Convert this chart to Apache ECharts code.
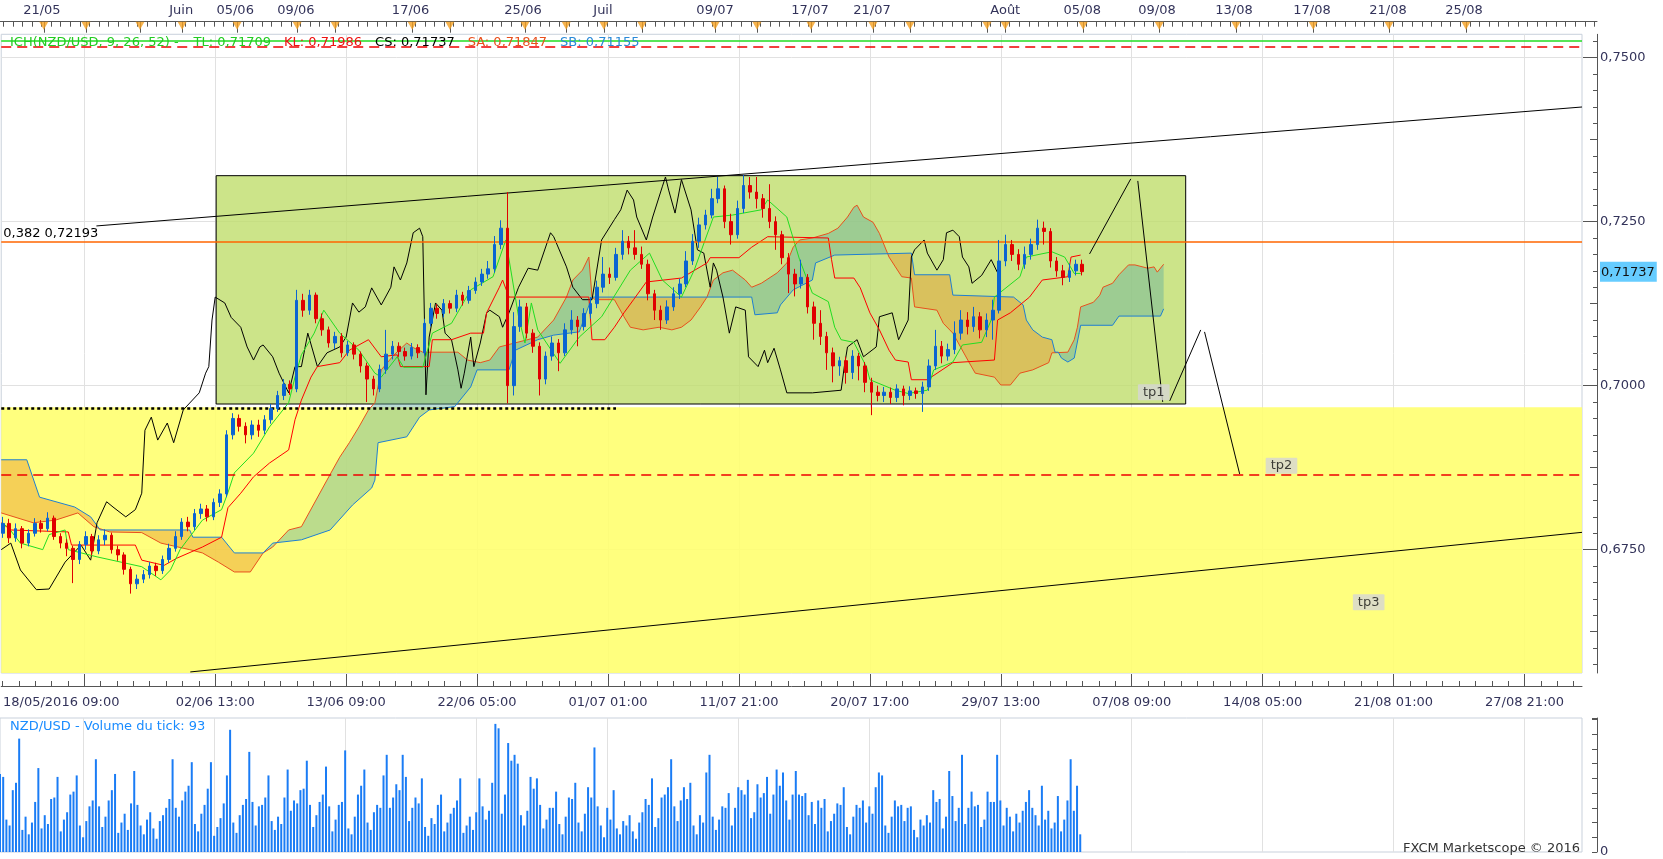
<!DOCTYPE html>
<html><head><meta charset="utf-8">
<script src="https://cdn.jsdelivr.net/npm/echarts@6/dist/echarts.min.js"></script>
<style>html,body{margin:0;padding:0;background:#fff}#c{width:1663px;height:859px}</style>
</head><body><div id="c"></div>
<script>
// ---------- axes / labels ----------
const SLOTS = 495;            // 4-hour bar slots across the price panel
const TOPMAX = 499.8;
const bottomTickSlots = [26,67,108,149,190,231,272,313,354,395,436,477];
const bottomTickLabels = ['18/05/2016 09:00','02/06 13:00','13/06 09:00','22/06 05:00','01/07 01:00','11/07 21:00','20/07 17:00','29/07 13:00','07/08 09:00','14/08 05:00','21/08 01:00','27/08 21:00'];
const topTickSlots = [13.1,56.7,73.6,92.6,128.5,163.7,188.7,223.8,253.5,272.9,314.6,338.7,362.1,386.2,410.6,434.4,458.2];
const topTickLabels = ['21/05','Juin','05/06','09/06','17/06','25/06','Juil','09/07','17/07','21/07','Août','05/08','09/08','13/08','17/08','21/08','25/08'];
const eventSlots = [13.7,26.9,43.8,57,74.2,93,104.9,129,140.8,164.3,177.2,189,200.9,223.8,236.9,253.8,273.2,284.8,308.9,314.6,339,362.8,386.8,411,434.7,458.8];
const priceTicks = [0.675,0.7,0.725,0.75];
const PMIN = 0.6562, PMAX = 0.75355;
const lastPrice = 0.71737;

// ---------- price data: [open, close, low, high], one candle every 2 slots ----------
const candles = [
[0.6775,0.6790,0.6768,0.6800],[0.6790,0.6768,0.6760,0.6797],[0.6768,0.6782,0.6762,0.6790],[0.6782,0.6760,0.6752,0.6786],
[0.6760,0.6775,0.6755,0.6781],[0.6775,0.6790,0.6770,0.6798],[0.6790,0.6782,0.6776,0.6795],[0.6782,0.6798,0.6778,0.6807],
[0.6798,0.6770,0.6765,0.6802],[0.6770,0.6760,0.6752,0.6775],[0.6760,0.6752,0.6740,0.6766],[0.6752,0.6735,0.6699,0.6756],
[0.6735,0.6758,0.6728,0.6763],[0.6758,0.6770,0.6750,0.6778],[0.6770,0.6748,0.6741,0.6774],[0.6748,0.6765,0.6743,0.6772],
[0.6765,0.6772,0.6757,0.6781],[0.6772,0.6750,0.6744,0.6776],[0.6750,0.6742,0.6733,0.6756],[0.6742,0.6720,0.6712,0.6746],
[0.6720,0.6698,0.6683,0.6724],[0.6698,0.6705,0.6690,0.6712],[0.6705,0.6712,0.6699,0.6719],[0.6712,0.6725,0.6706,0.6731],
[0.6725,0.6718,0.6710,0.6730],[0.6718,0.6735,0.6713,0.6741],[0.6735,0.6752,0.6730,0.6759],[0.6752,0.6770,0.6747,0.6778],
[0.6770,0.6792,0.6765,0.6798],[0.6792,0.6785,0.6778,0.6800],[0.6785,0.6805,0.6780,0.6812],[0.6805,0.6812,0.6797,0.6820],
[0.6812,0.6800,0.6793,0.6818],[0.6800,0.6822,0.6795,0.6828],[0.6822,0.6835,0.6815,0.6842],[0.6835,0.6925,0.6830,0.6932],
[0.6925,0.6950,0.6918,0.6958],[0.6950,0.6938,0.6930,0.6956],[0.6938,0.6925,0.6912,0.6944],[0.6925,0.6940,0.6918,0.6947],
[0.6940,0.6932,0.6922,0.6948],[0.6932,0.6948,0.6926,0.6955],[0.6948,0.6965,0.6942,0.6972],[0.6965,0.6985,0.6960,0.6992],
[0.6985,0.7002,0.6978,0.7010],[0.7002,0.6995,0.6986,0.7008],[0.6995,0.7130,0.6990,0.7146],[0.7130,0.7115,0.7105,0.7140],
[0.7115,0.7138,0.7108,0.7146],[0.7138,0.7102,0.7095,0.7142],[0.7102,0.7085,0.7076,0.7110],[0.7085,0.7065,0.7058,0.7090],
[0.7065,0.7075,0.7056,0.7082],[0.7075,0.7050,0.7043,0.7080],[0.7050,0.7062,0.7045,0.7068],[0.7062,0.7048,0.7040,0.7066],
[0.7048,0.7030,0.7020,0.7052],[0.7030,0.7010,0.6975,0.7035],[0.7010,0.6995,0.6985,0.7015],[0.6995,0.7025,0.6990,0.7032],
[0.7025,0.7048,0.7018,0.7085],[0.7048,0.7060,0.7040,0.7068],[0.7060,0.7052,0.7044,0.7066],[0.7052,0.7045,0.7038,0.7058],
[0.7045,0.7058,0.7040,0.7065],[0.7058,0.7050,0.7042,0.7063],[0.7050,0.7095,0.7046,0.7102],[0.7095,0.7118,0.7090,0.7126],
[0.7118,0.7110,0.7102,0.7124],[0.7110,0.7125,0.7104,0.7132],[0.7125,0.7118,0.7110,0.7130],[0.7118,0.7138,0.7112,0.7146],
[0.7138,0.7130,0.7122,0.7143],[0.7130,0.7145,0.7125,0.7152],[0.7145,0.7158,0.7140,0.7165],[0.7158,0.7170,0.7152,0.7178],
[0.7170,0.7178,0.7163,0.7190],[0.7178,0.7215,0.7172,0.7228],[0.7215,0.7240,0.7208,0.7252],[0.7240,0.7000,0.6973,0.7295],
[0.7000,0.7090,0.6985,0.7112],[0.7090,0.7120,0.7082,0.7131],[0.7120,0.7080,0.7072,0.7126],[0.7080,0.7060,0.7050,0.7086],
[0.7060,0.7010,0.6985,0.7066],[0.7010,0.7045,0.7002,0.7052],[0.7045,0.7065,0.7038,0.7075],[0.7065,0.7050,0.7022,0.7071],
[0.7050,0.7085,0.7045,0.7095],[0.7085,0.7100,0.7078,0.7115],[0.7100,0.7090,0.7060,0.7106],[0.7090,0.7110,0.7084,0.7118],
[0.7110,0.7125,0.7102,0.7135],[0.7125,0.7150,0.7118,0.7160],[0.7150,0.7170,0.7142,0.7196],[0.7170,0.7165,0.7155,0.7180],
[0.7165,0.7200,0.7160,0.7210],[0.7200,0.7220,0.7192,0.7237],[0.7220,0.7210,0.7200,0.7228],[0.7210,0.7200,0.7192,0.7237],
[0.7200,0.7185,0.7178,0.7212],[0.7185,0.7140,0.7130,0.7192],[0.7140,0.7115,0.7100,0.7146],[0.7115,0.7100,0.7085,0.7122],
[0.7100,0.7120,0.7094,0.7130],[0.7120,0.7140,0.7114,0.7150],[0.7140,0.7155,0.7132,0.7163],[0.7155,0.7190,0.7150,0.7205],
[0.7190,0.7220,0.7184,0.7231],[0.7220,0.7245,0.7210,0.7256],[0.7245,0.7260,0.7238,0.7268],[0.7260,0.7285,0.7255,0.7300],
[0.7285,0.7300,0.7278,0.7318],[0.7300,0.7250,0.7240,0.7305],[0.7250,0.7230,0.7215,0.7262],[0.7230,0.7270,0.7224,0.7282],
[0.7270,0.7305,0.7263,0.7321],[0.7305,0.7295,0.7285,0.7318],[0.7295,0.7285,0.7270,0.7318],[0.7285,0.7270,0.7256,0.7292],
[0.7270,0.7250,0.7240,0.7307],[0.7250,0.7230,0.7207,0.7258],[0.7230,0.7195,0.7185,0.7236],[0.7195,0.7170,0.7141,0.7202],
[0.7170,0.7155,0.7136,0.7178],[0.7155,0.7165,0.7148,0.7192],[0.7165,0.7120,0.7110,0.7170],[0.7120,0.7095,0.7070,0.7128],
[0.7095,0.7075,0.7062,0.7115],[0.7075,0.7050,0.7024,0.7082],[0.7050,0.7030,0.7005,0.7058],[0.7030,0.7038,0.7015,0.7044],
[0.7038,0.7020,0.7003,0.7044],[0.7020,0.7045,0.7010,0.7054],[0.7045,0.7030,0.7008,0.7050],[0.7030,0.7005,0.6990,0.7036],
[0.7005,0.6990,0.6955,0.7012],[0.6990,0.6985,0.6976,0.7000],[0.6985,0.6990,0.6975,0.6998],[0.6990,0.6982,0.6972,0.6997],
[0.6982,0.6995,0.6975,0.7002],[0.6995,0.6985,0.6970,0.7000],[0.6985,0.6992,0.6978,0.6999],[0.6992,0.6988,0.6980,0.6997],
[0.6988,0.6998,0.6960,0.7006],[0.6998,0.7030,0.6992,0.7040],[0.7030,0.7060,0.7024,0.7085],[0.7060,0.7045,0.7034,0.7068],
[0.7045,0.7055,0.7038,0.7064],[0.7055,0.7080,0.7048,0.7098],[0.7080,0.7100,0.7070,0.7115],[0.7100,0.7090,0.7078,0.7112],
[0.7090,0.7105,0.7082,0.7120],[0.7105,0.7085,0.7072,0.7112],[0.7085,0.7100,0.7074,0.7110],[0.7100,0.7115,0.7070,0.7131],
[0.7115,0.7190,0.7110,0.7222],[0.7190,0.7215,0.7182,0.7230],[0.7215,0.7200,0.7190,0.7222],[0.7200,0.7185,0.7176,0.7208],
[0.7185,0.7200,0.7178,0.7212],[0.7200,0.7215,0.7192,0.7224],[0.7215,0.7240,0.7207,0.7253],[0.7240,0.7235,0.7215,0.7250],
[0.7235,0.7190,0.7180,0.7240],[0.7190,0.7175,0.7166,0.7196],[0.7175,0.7165,0.7153,0.7184],[0.7165,0.7175,0.7158,0.7186],
[0.7175,0.7185,0.7168,0.7192],[0.7185,0.71737,0.7168,0.7192]
];

// ---------- Ichimoku lines: [slot, price] ----------
const tenkan = [[0,0.6790],[2,0.6785],[6,0.6760],[13,0.6750],[15,0.6773],[20,0.6780],[21,0.6750],[30,0.6739],[44,0.6724],[50,0.6704],[53,0.6719],[56,0.6750],[63,0.6795],[69,0.6811],[71,0.6837],[73,0.6867],[79,0.6897],[84,0.6937],[90,0.6974],[92,0.7013],[94,0.7047],[98,0.7080],[101,0.7115],[106,0.7080],[112,0.7054],[117,0.7019],[119,0.7013],[124,0.7044],[126,0.7028],[132,0.7028],[135,0.7080],[141,0.7095],[147,0.7146],[154,0.7166],[158,0.7222],[162,0.7105],[164,0.7065],[166,0.7126],[168,0.7085],[175,0.7034],[181,0.7074],[188,0.7105],[197,0.7176],[203,0.7202],[207,0.7161],[213,0.7135],[217,0.7176],[223,0.7257],[229,0.7260],[238,0.7268],[240,0.7283],[246,0.7257],[250,0.7192],[254,0.7141],[259,0.7128],[261,0.7089],[263,0.7070],[267,0.7066],[271,0.7028],[272,0.7009],[280,0.6993],[284,0.6988],[290,0.6993],[292,0.7024],[298,0.7036],[301,0.7062],[307,0.7066],[310,0.7100],[311,0.7135],[319,0.7166],[321,0.7196],[329,0.7204],[333,0.7196],[336,0.7171],[338,0.7171]];
const kijun = [[0,0.6791],[3,0.6780],[21,0.6777],[22,0.6757],[42,0.6757],[44,0.6734],[51,0.6726],[55,0.6737],[63,0.6754],[69,0.6769],[71,0.6814],[75,0.6836],[79,0.6861],[84,0.6882],[90,0.6902],[92,0.6948],[94,0.6978],[97,0.7013],[99,0.7029],[106,0.7035],[109,0.7054],[115,0.7070],[119,0.7044],[124,0.7047],[125,0.7029],[134,0.7029],[135,0.7070],[141,0.7070],[147,0.7080],[151,0.7080],[152,0.7111],[156,0.7150],[157,0.7161],[159,0.7135],[184,0.7135],[185,0.7070],[189,0.7070],[192,0.7089],[195,0.7111],[198,0.7131],[202,0.7158],[213,0.7164],[221,0.7187],[222,0.7195],[231,0.7195],[235,0.7211],[240,0.7227],[259,0.7225],[260,0.7192],[261,0.7164],[267,0.7164],[269,0.7149],[272,0.7111],[275,0.7085],[278,0.7054],[280,0.7039],[284,0.7036],[285,0.7009],[290,0.7009],[298,0.7035],[311,0.7039],[312,0.7100],[316,0.7111],[322,0.7135],[326,0.7161],[334,0.7166],[335,0.7196],[338,0.7199]];
const senkouA = [[0,0.6806],[10,0.6791],[17,0.6795],[24,0.6806],[29,0.6785],[34,0.6777],[44,0.6776],[50,0.6760],[59,0.6750],[63,0.6745],[68,0.6731],[73,0.6716],[78,0.6716],[82,0.6745],[85,0.6754],[90,0.6780],[94,0.6785],[102,0.6856],[106,0.6891],[109,0.6913],[112,0.6937],[115,0.6963],[117,0.6974],[119,0.7024],[123,0.7047],[127,0.7065],[129,0.7058],[132,0.7051],[143,0.7051],[146,0.7039],[150,0.7035],[153,0.7039],[156,0.7059],[168,0.7074],[173,0.7100],[177,0.7135],[179,0.7161],[182,0.7176],[184,0.7196],[185,0.7135],[186,0.7131],[192,0.7131],[195,0.7105],[197,0.7089],[201,0.7085],[206,0.7089],[210,0.7085],[213,0.7089],[216,0.7100],[219,0.7120],[221,0.7135],[223,0.7161],[226,0.7172],[229,0.7176],[233,0.7161],[235,0.7150],[238,0.7156],[243,0.7172],[246,0.7187],[248,0.7211],[250,0.7222],[254,0.7225],[259,0.7232],[262,0.7240],[265,0.7257],[267,0.7272],[268,0.7275],[270,0.7257],[273,0.7249],[275,0.7232],[278,0.7196],[280,0.7181],[282,0.7166],[285,0.7164],[286,0.7120],[293,0.7115],[295,0.7095],[298,0.7080],[303,0.7036],[305,0.7019],[311,0.7013],[313,0.7001],[316,0.7001],[319,0.7019],[323,0.7024],[328,0.7035],[329,0.7050],[334,0.7051],[336,0.7070],[337,0.7089],[338,0.7120],[342,0.7127],[344,0.7138],[345,0.7150],[348,0.7156],[350,0.7169],[353,0.7184],[355,0.7184],[359,0.7179],[361,0.7181],[362,0.7173],[364,0.7185]];
const senkouB = [[0,0.6887],[8,0.6887],[12,0.6830],[23,0.6815],[28,0.6800],[31,0.6780],[59,0.6780],[60,0.6769],[69,0.6769],[73,0.6745],[82,0.6745],[85,0.6760],[94,0.6765],[103,0.6780],[110,0.6818],[116,0.6844],[117,0.6856],[118,0.6913],[127,0.6922],[131,0.6952],[134,0.6963],[142,0.6968],[147,0.6998],[149,0.7024],[159,0.7024],[161,0.7054],[168,0.7070],[173,0.7077],[181,0.7082],[185,0.7135],[235,0.7135],[236,0.7108],[243,0.7111],[244,0.7123],[248,0.7146],[254,0.7161],[255,0.7187],[261,0.7199],[285,0.7202],[286,0.7169],[297,0.7169],[298,0.7138],[317,0.7135],[320,0.7123],[321,0.7100],[323,0.7085],[326,0.7074],[329,0.7070],[330,0.7051],[331,0.7051],[332,0.7042],[334,0.7036],[336,0.7042],[338,0.7092],[348,0.7092],[350,0.7106],[363,0.7106],[364,0.7117]];
const chikou = [[0,0.6750],[3,0.6760],[6,0.6719],[11,0.6689],[15,0.6690],[20,0.6731],[25,0.6757],[28,0.6734],[30,0.6791],[33,0.6823],[35,0.6815],[39,0.6800],[42,0.6811],[44,0.6836],[45,0.6932],[47,0.6952],[49,0.6917],[52,0.6943],[54,0.6913],[57,0.6963],[62,0.6989],[64,0.7019],[65,0.7029],[66,0.7100],[67,0.7135],[70,0.7126],[72,0.7104],[75,0.7089],[77,0.7059],[79,0.7039],[81,0.7059],[82,0.7062],[85,0.7044],[87,0.7019],[90,0.6989],[92,0.7029],[94,0.7029],[96,0.7080],[99,0.7029],[102,0.7050],[106,0.7059],[108,0.7074],[110,0.7126],[112,0.7112],[114,0.7120],[116,0.7149],[119,0.7123],[122,0.7150],[123,0.7181],[125,0.7161],[127,0.7187],[129,0.7233],[131,0.7240],[132,0.7227],[133,0.6986],[134,0.7074],[136,0.7126],[138,0.7115],[139,0.7080],[141,0.7070],[143,0.7024],[144,0.6996],[145,0.7019],[147,0.7074],[148,0.7029],[150,0.7065],[152,0.7111],[153,0.7115],[156,0.7105],[157,0.7089],[159,0.7111],[162,0.7150],[165,0.7179],[168,0.7176],[172,0.7233],[173,0.7227],[177,0.7181],[179,0.7150],[182,0.7131],[185,0.7131],[188,0.7222],[192,0.7253],[194,0.7268],[196,0.7298],[198,0.7283],[199,0.7257],[202,0.7222],[204,0.7257],[207,0.7303],[208,0.7318],[209,0.7298],[211,0.7263],[213,0.7314],[216,0.7268],[218,0.7207],[220,0.7202],[222,0.7150],[223,0.7187],[224,0.7176],[226,0.7135],[228,0.7080],[230,0.7120],[233,0.7115],[234,0.7044],[237,0.7029],[239,0.7054],[240,0.7035],[242,0.7057],[244,0.7024],[246,0.6989],[254,0.6989],[263,0.6993],[264,0.7029],[265,0.7059],[268,0.7070],[270,0.7044],[274,0.7059],[275,0.7105],[279,0.7111],[281,0.7070],[284,0.7100],[285,0.7196],[286,0.7207],[289,0.7222],[290,0.7202],[293,0.7176],[295,0.7192],[296,0.7233],[298,0.7237],[300,0.7227],[301,0.7196],[303,0.7181],[304,0.7156],[307,0.7168],[310,0.7192],[312,0.7172]];
// cloud segments: [fromSlot, toSlot, 1 = Senkou A above (green) / 0 = below (orange)]
const cloudSegments = [[0,82,0],[82,185,1],[185,221,0],[221,278,1],[278,330,0],[330,364,1]];

// ---------- tick volume per slot ----------
const volume = [53,51,22,18,42,47,77,15,24,12,20,34,57,16,25,19,36,37,51,14,22,27,39,41,52,18,10,21,31,35,63,31,17,24,35,42,53,13,20,26,15,33,55,32,18,12,22,27,16,9,21,25,30,36,63,30,24,35,41,45,61,19,14,26,32,43,61,11,17,23,33,52,83,20,13,25,32,36,68,34,18,31,32,37,52,21,15,24,19,37,56,28,35,33,42,43,62,32,17,25,34,39,58,31,14,22,32,34,69,16,12,24,39,45,56,20,15,27,32,30,52,66,30,37,46,42,66,51,21,30,37,33,50,17,11,23,19,32,39,14,20,26,30,35,50,13,18,24,15,27,50,31,22,28,47,87,84,26,39,74,62,66,60,25,18,28,51,43,50,32,16,22,30,30,41,19,12,24,37,36,47,20,14,26,44,37,71,31,18,10,30,22,42,16,12,21,18,25,14,9,20,27,36,32,50,17,23,37,39,44,63,31,21,35,44,36,47,18,12,25,20,54,66,24,15,22,31,30,40,18,30,44,42,39,49,23,27,46,37,40,51,26,39,56,45,54,35,22,39,55,39,38,40,25,34,19,35,30,36,14,21,26,33,32,44,17,12,24,32,30,35,20,31,26,44,54,52,18,13,24,35,31,32,21,30,31,15,10,22,18,25,20,42,34,36,16,24,55,38,21,30,66,19,30,41,31,32,17,22,41,34,34,66,35,18,30,24,14,26,20,28,34,42,30,25,18,45,22,28,16,20,38,14,22,35,63,28,45,12];

// ---------- drawn objects ----------
const fibLevel = 0.72193;
const targetLevel = 0.6864;
const upperDashLevel = 0.75168;
const greenLevel = 0.7525;
const supportLevel = 0.69655;
const yellowTop = 0.6967;
const box = {left:67.3, right:370.9, top:0.7320, bottom:0.6972};
const upperTrend = [[29.8,0.72434],[495,0.74247]];
const lowerTrend = [[59.2,0.65636],[495,0.67764]];
const projection = [[[340.8,0.72008],[353.7,0.73151]],[[355.9,0.73120],[363.7,0.69752]],[[365.9,0.69767],[375.6,0.70849]],[[376.8,0.70819],[387.8,0.68654]]];
const targets = [{name:'tp1', value:[360.9,0.6990]},{name:'tp2', value:[400.9,0.6878]},{name:'tp3', value:[428.2,0.6670]}];

// ---------- build ----------
const slotNames = []; for (let i=0;i<SLOTS;i++) slotNames.push(String(i));
const candleData = slotNames.map(()=>['-','-','-','-']);
candles.forEach((c,k)=>{ candleData[2*k] = c; });
const volData = volume.map((v,i)=>[i,v]);
const bottomMinor = []; for (let v=26-5*5.125; v<SLOTS; v+=5.125) bottomMinor.push(+v.toFixed(3));
const topMinor = []; for (let v=1; v<TOPMAX; v+=3) topMinor.push(v);
const priceMid = [0.6625,0.6875,0.7125,0.7375];
const priceMinor = []; for (let v=0.6575; v<0.7535; v+=0.0025) priceMinor.push(+v.toFixed(4));

function nearest(arr, v){ let b=0; for (let i=1;i<arr.length;i++) if (Math.abs(arr[i]-v)<Math.abs(arr[b]-v)) b=i; return b; }
function interp(line, s){
  if (s <= line[0][0]) return line[0][1];
  for (let i=1;i<line.length;i++){ if (line[i][0] >= s){ const a=line[i-1], b=line[i]; if (b[0]===a[0]) return b[1]; return a[1]+(b[1]-a[1])*(s-a[0])/(b[0]-a[0]); } }
  return line[line.length-1][1];
}
function clip(line, s, e){
  const out=[[s, interp(line,s)]];
  line.forEach(p=>{ if (p[0]>s && p[0]<e) out.push(p); });
  out.push([e, interp(line,e)]);
  return out;
}
const FONT = 'DejaVu Sans';
const AXC = '#33335a';
const NOZERO = {onZero:false};

const lineSeries = (name, data, color, z) => ({
  name, type:'line', xAxisIndex:1, yAxisIndex:0, data, symbol:'none', z,
  lineStyle:{color, width:1}, silent:true
});

const option = {
  animation:false,
  backgroundColor:'#ffffff',
  textStyle:{fontFamily:FONT},
  title:[
    {left:10, top:36, padding:0, text:'{g|ICH(NZD/USD, 9, 26, 52) -}{s2|}{g|TL: 0,71709}{s|}{r|KL: 0,71986}{s|}{k|CS: 0,71737}{s|}{o|SA: 0,71847}{s|}{b|SB: 0,71155}',
     textStyle:{fontSize:13, fontWeight:'normal', fontFamily:FONT, rich:{
       g:{color:'#22cc22', fontSize:13, fontFamily:FONT}, r:{color:'#ee1111', fontSize:13, fontFamily:FONT},
       k:{color:'#000000', fontSize:13, fontFamily:FONT}, o:{color:'#e8501e', fontSize:13, fontFamily:FONT},
       b:{color:'#2a8ad8', fontSize:13, fontFamily:FONT}, s:{width:13}, s2:{width:15}}}},
    {left:10, top:720, padding:0, text:'NZD/USD - Volume du tick: 93', textStyle:{fontSize:13, fontWeight:'normal', color:'#1a8cff', fontFamily:FONT}},
    {right:83, top:842, padding:0, text:'FXCM Marketscope © 2016', textStyle:{fontSize:13, fontWeight:'normal', color:'#333333', fontFamily:FONT}}
  ],
  grid:[
    {left:0, right:81, top:34.3, bottom:186, show:true, borderColor:'#c9d1dc', borderWidth:1, backgroundColor:'#ffffff'},
    {left:0, right:81, top:718, bottom:7, show:true, borderColor:'#c9d1dc', borderWidth:1, backgroundColor:'#ffffff'},
    {left:0, right:66, top:21.7, height:12.6, show:false}
  ],
  xAxis:[
    {type:'category', gridIndex:0, data:slotNames, boundaryGap:true, show:false, axisLine:NOZERO},
    {type:'value', gridIndex:0, min:0, max:SLOTS, show:false, axisLine:NOZERO},
    {type:'value', gridIndex:0, min:0, max:SLOTS, position:'bottom', offset:13,
     axisLine:{show:true, onZero:false, lineStyle:{color:'#555'}},
     axisTick:{show:true, inside:true, length:12, customValues:bottomTickSlots, lineStyle:{color:'#555'}},
     axisLabel:{show:true, customValues:bottomTickSlots, color:AXC, fontSize:13, fontFamily:FONT, margin:10,
       formatter:function(v){ const i=nearest(bottomTickSlots,v); const t=bottomTickLabels[i]; return i===0 ? '{t|'+t+'}{p|}' : t; },
       rich:{t:{color:AXC, fontSize:13, fontFamily:FONT}, p:{width:46}}},
     splitLine:{show:true, lineStyle:{color:'#e1e1e1'}}},
    {type:'value', gridIndex:0, min:0, max:SLOTS, position:'bottom', offset:13,
     axisLine:{show:false, onZero:false}, axisTick:{show:true, inside:true, length:5, customValues:bottomMinor, lineStyle:{color:'#555'}},
     axisLabel:{show:false}, splitLine:{show:false}},
    {type:'value', gridIndex:1, min:0, max:SLOTS, position:'bottom', axisLine:{show:false, onZero:false},
     axisTick:{show:true, length:0, customValues:bottomTickSlots}, axisLabel:{show:false},
     splitLine:{show:true, lineStyle:{color:'#e1e1e1'}}},
    {type:'value', gridIndex:2, min:0, max:TOPMAX, position:'top',
     axisLine:{show:true, onZero:false, lineStyle:{color:'#555'}},
     axisTick:{show:true, inside:true, length:5, customValues:topMinor, lineStyle:{color:'#555'}},
     axisLabel:{show:true, customValues:topTickSlots, color:AXC, fontSize:13, fontFamily:FONT, margin:5,
       formatter:function(v){ return topTickLabels[nearest(topTickSlots,v)]; }},
     splitLine:{show:false}},
    {type:'value', gridIndex:2, min:0, max:TOPMAX, position:'top', axisLine:{show:false, onZero:false},
     axisTick:{show:true, inside:true, length:11, customValues:eventSlots, lineStyle:{color:'#555'}},
     axisLabel:{show:false}, splitLine:{show:false}}
  ],
  yAxis:[
    {type:'value', gridIndex:0, min:PMIN, max:PMAX, position:'right', offset:15,
     axisLine:{show:true, onZero:false, lineStyle:{color:'#555'}},
     axisTick:{show:true, inside:true, length:14, customValues:priceTicks, lineStyle:{color:'#555'}},
     axisLabel:{show:true, customValues:priceTicks.concat([lastPrice]), color:AXC, fontSize:13, fontFamily:FONT, margin:3,
       formatter:function(v){ return Math.abs(v-lastPrice)<1e-7 ? '{cur|'+lastPrice.toFixed(5).replace('.',',')+'}' : v.toFixed(4).replace('.',','); },
       rich:{cur:{backgroundColor:'#66ccff', color:'#111111', fontSize:13, fontFamily:FONT, padding:[4,2,3,1]}}},
     splitLine:{show:true, lineStyle:{color:'#e1e1e1'}}},
    {type:'value', gridIndex:0, min:PMIN, max:PMAX, position:'right', offset:15, axisLine:{show:false, onZero:false},
     axisTick:{show:true, inside:true, length:7, customValues:priceMid, lineStyle:{color:'#555'}},
     axisLabel:{show:false}, splitLine:{show:false}},
    {type:'value', gridIndex:0, min:PMIN, max:PMAX, position:'right', offset:15, axisLine:{show:false, onZero:false},
     axisTick:{show:true, inside:true, length:4, customValues:priceMinor, lineStyle:{color:'#555'}},
     axisLabel:{show:false}, splitLine:{show:false}},
    {type:'value', gridIndex:1, min:0, max:91, interval:10, position:'right', offset:15,
     axisLine:{show:true, onZero:false, lineStyle:{color:'#555'}},
     axisTick:{show:true, inside:true, length:5, lineStyle:{color:'#555'}},
     axisLabel:{show:true, color:AXC, fontSize:13, fontFamily:FONT, margin:3, formatter:function(v){ return v===0 ? '0' : ''; }},
     splitLine:{show:false}},
    {type:'value', gridIndex:2, min:0, max:1, show:false, axisLine:NOZERO}
  ],
  series:[
    {name:'zones', type:'line', xAxisIndex:1, yAxisIndex:0, data:[[0,PMIN]], symbol:'none', z:1, silent:true,
     lineStyle:{width:0},
     markArea:{silent:true, data:[
       [{coord:[0,yellowTop], itemStyle:{color:'rgba(255,255,112,0.9)'}},{coord:[SLOTS,PMIN]}],
       [{coord:[box.left,box.top], itemStyle:{color:'rgba(190,221,104,0.78)', borderColor:'#000', borderWidth:1}},{coord:[box.right,box.bottom]}]
     ]}},
    {name:'cloud', type:'custom', xAxisIndex:1, yAxisIndex:0, z:2, silent:true, clip:true,
     data:cloudSegments,
     renderItem:function(params, api){
       const s=api.value(0), e=api.value(1), kind=api.value(2);
       const pts = clip(senkouA,s,e).concat(clip(senkouB,s,e).reverse()).map(p=>api.coord(p));
       return {type:'polygon', shape:{points:pts}, style:{fill: kind ? 'rgba(92,172,160,0.42)' : 'rgba(232,150,40,0.45)'}};
     }},
    lineSeries('SA', senkouA, '#e8501e', 3),
    lineSeries('SB', senkouB, '#1e7fd2', 3),
    lineSeries('CS', chikou, '#000000', 4),
    lineSeries('KL', kijun, '#ff0000', 4),
    lineSeries('TL', tenkan, '#22dd22', 4),
    {name:'NZD/USD', type:'candlestick', xAxisIndex:0, yAxisIndex:0, data:candleData, barWidth:3, z:5, silent:true,
     itemStyle:{color:'#0a64d2', color0:'#e00000', borderColor:'#0a64d2', borderColor0:'#e00000', borderWidth:1}},
    {name:'drawings', type:'line', xAxisIndex:1, yAxisIndex:0, data:[[0,PMIN]], symbol:'none', z:6, silent:true,
     lineStyle:{width:0},
     markLine:{silent:true, precision:6, symbol:['none','none'], label:{show:false}, data:[
       {yAxis:fibLevel, lineStyle:{color:'#ff6600', width:1.5, type:'solid'},
        label:{show:true, position:'insideStartTop', formatter:'0,382 0,72193', color:'#000', fontSize:13, fontFamily:FONT, distance:[2,2]}},
       {yAxis:targetLevel, lineStyle:{color:'#ee0000', width:1.5, type:[10,6]}},
       {yAxis:upperDashLevel, lineStyle:{color:'#ee0000', width:1.5, type:[10,6]}},
       {yAxis:greenLevel, lineStyle:{color:'#22dd22', width:1.5, type:'solid'}},
       [{coord:[0,supportLevel], lineStyle:{color:'#000', width:2.5, type:[3,3]}},{coord:[192.5,supportLevel]}],
       [{coord:upperTrend[0], lineStyle:{color:'#000', width:1, type:'solid'}},{coord:upperTrend[1]}],
       [{coord:lowerTrend[0], lineStyle:{color:'#000', width:1, type:'solid'}},{coord:lowerTrend[1]}]
     ].concat(projection.map(seg=>[{coord:seg[0], lineStyle:{color:'#000', width:1, type:'solid'}},{coord:seg[1]}]))}},
    {name:'targets', type:'scatter', xAxisIndex:1, yAxisIndex:0, data:targets, symbol:'rect', symbolSize:1, z:7, silent:true,
     itemStyle:{color:'rgba(0,0,0,0)'},
     label:{show:true, position:'inside', formatter:'{b}', color:'#111', fontSize:13, fontFamily:FONT,
       backgroundColor:'#d6d6d6', padding:[2,5,1,5], borderRadius:1}},
    {name:'events', type:'scatter', xAxisIndex:5, yAxisIndex:4, data:eventSlots.map(s=>[s,1]),
     symbol:'triangle', symbolRotate:180, symbolSize:[9,8], symbolOffset:[0,4], z:8, silent:true,
     itemStyle:{color:'#f5a020'}},
    {name:'Volume', type:'bar', xAxisIndex:4, yAxisIndex:3, data:volData, barWidth:2, silent:true,
     itemStyle:{color:'#1a7cf5'}}
  ]
};
const chart = echarts.init(document.getElementById('c'), null, {renderer:'canvas'});
chart.setOption(option);
</script></body></html>
